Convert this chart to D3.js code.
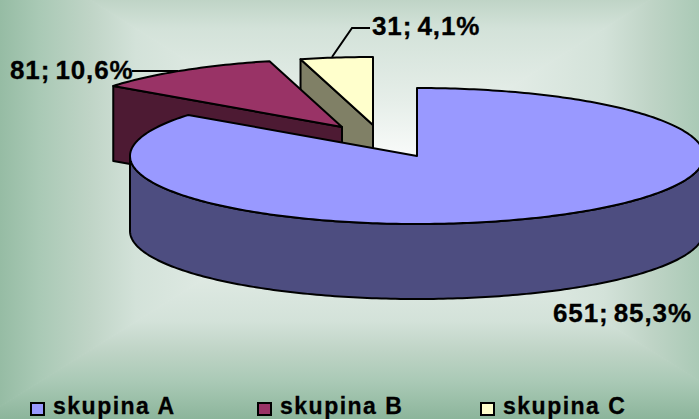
<!DOCTYPE html>
<html>
<head>
<meta charset="utf-8">
<script src="https://cdnjs.cloudflare.com/ajax/libs/d3/7.8.5/d3.min.js"></script>
<style>
  html, body { margin: 0; padding: 0; background: #fff; }
  svg { display: block; font-family: "Liberation Sans", Arial, sans-serif; font-weight: bold; }
</style>
</head>
<body>
<div id="chart"></div>
<script>
// chart data
var categories = ["skupina A", "skupina B", "skupina C"];
var values = [651, 81, 31];
var dataLabels = ["651; 85,3%", "81; 10,6%", "31; 4,1%"];

// colours
var topColors = ["#9999ff", "#993366", "#ffffcc"];
var sideColors = ["#4d4d80", "#4d1a33", "#808066"];

var svgWidth = 699;
var svgHeight = 419;

// pie geometry: ellipse radii, wall height, and the tip of each exploded slice
var rx = 287;
var ry = 68;
var depth = 75;
var tips = [[417, 156], [342, 127], [373, 125]];

var svg = d3.select("#chart")
    .append("svg")
    .attr("width", svgWidth)
    .attr("height", svgHeight);

var defs = svg.append("defs");

/////////////// BACKGROUND: rectangular gradient from the centre /////////////////

// the gradient rectangle runs past the top and right of the picture
var bgCenter = [370, 175];
var bgW = 390;
var bgH = 244;
var bgStops = [
  [0, "#ffffff"], [0.3, "#e6eee9"], [0.6, "#d3e2d9"],
  [0.72, "#bfd4c6"], [0.85, "#a9c9b5"], [1, "#8cb59b"]
];

var bgCorners = [
  [bgCenter[0] - bgW, bgCenter[1] - bgH],
  [bgCenter[0] + bgW, bgCenter[1] - bgH],
  [bgCenter[0] + bgW, bgCenter[1] + bgH],
  [bgCenter[0] - bgW, bgCenter[1] + bgH]
];
var bgEdges = [
  [bgCenter[0], bgCenter[1] - bgH],
  [bgCenter[0] + bgW, bgCenter[1]],
  [bgCenter[0], bgCenter[1] + bgH],
  [bgCenter[0] - bgW, bgCenter[1]]
];

bgEdges.forEach(function(edge, i) {
  var grad = defs.append("linearGradient")
      .attr("id", "bg" + i)
      .attr("gradientUnits", "userSpaceOnUse")
      .attr("x1", bgCenter[0]).attr("y1", bgCenter[1])
      .attr("x2", edge[0]).attr("y2", edge[1]);

  bgStops.forEach(function(s) {
    grad.append("stop").attr("offset", s[0]).attr("stop-color", s[1]);
  });

  svg.append("polygon")
      .attr("points", [bgCorners[i], bgCorners[(i + 1) % 4], bgCenter].join(" "))
      .attr("fill", "url(#bg" + i + ")")
      .attr("stroke", "url(#bg" + i + ")")
      .attr("stroke-width", 1);
});

/////////////// PIE /////////////////////////

var pie = d3.pie().sort(null).value(function(d) { return d; });
var slices = pie(values);

// angle is clockwise from the top, as in d3.pie
function rimPoint(i, angle) {
  return [tips[i][0] + rx * Math.sin(angle), tips[i][1] - ry * Math.cos(angle)];
}

function rimPoints(i, a0, a1) {
  var n = Math.max(2, Math.ceil((a1 - a0) * 60));
  return d3.range(n + 1).map(function(k) {
    return rimPoint(i, a0 + (a1 - a0) * k / n);
  });
}

var line = d3.line();
var down = function(p) { return [p[0], p[1] + depth]; };

function drawShape(points, fill) {
  svg.append("path")
      .attr("d", line(points) + "Z")
      .attr("fill", fill)
      .attr("stroke", "#000")
      .attr("stroke-width", 2)
      .attr("stroke-linejoin", "round");
}

// skupina C: visible cut face, then top
var cStart = rimPoint(2, slices[2].startAngle);
drawShape([cStart, tips[2], down(tips[2]), down(cStart)], sideColors[2]);
drawShape([tips[2]].concat(rimPoints(2, slices[2].startAngle, slices[2].endAngle)), topColors[2]);

// skupina B: visible cut face, then top
var bStart = rimPoint(1, slices[1].startAngle);
drawShape([bStart, tips[1], down(tips[1]), down(bStart)], sideColors[1]);
drawShape([tips[1]].concat(rimPoints(1, slices[1].startAngle, slices[1].endAngle)), topColors[1]);

// skupina A: outer wall from the right extreme round the bottom to the left extreme
var wallRim = rimPoints(0, Math.PI / 2, 3 * Math.PI / 2);
drawShape(wallRim.concat(wallRim.slice().reverse().map(down)), sideColors[0]);
drawShape([tips[0]].concat(rimPoints(0, slices[0].startAngle, slices[0].endAngle)), topColors[0]);

/////////////// LABELS AND LEADER LINES /////////////////////////

var labelX = [553, 10, 372];
var labelY = [322, 79, 35];

svg.selectAll("text.dataLabel")
    .data(dataLabels)
    .enter()
    .append("text")
    .attr("class", "dataLabel")
    .attr("x", function(d, i) { return labelX[i]; })
    .attr("y", function(d, i) { return labelY[i]; })
    .attr("font-size", 26)
    .attr("letter-spacing", 0.9)
    .attr("word-spacing", -3)
    .attr("fill", "#000")
    .attr("stroke", "#000")
    .attr("stroke-width", 0.3)
    .text(function(d) { return d; });

var leaders = [
  [[132, 71], [178, 71]],
  [[332, 57], [352, 28], [370, 28]]
];

leaders.forEach(function(pts) {
  svg.append("path")
      .attr("d", line(pts))
      .attr("fill", "none")
      .attr("stroke", "#000")
      .attr("stroke-width", 2);
});

/////////////// LEGEND /////////////////////////

var legendX = [30, 257, 480];

var legend = svg.selectAll("g.legendItem")
    .data(categories)
    .enter()
    .append("g")
    .attr("class", "legendItem")
    .attr("transform", function(d, i) { return "translate(" + legendX[i] + ",0)"; });

legend.append("rect")
    .attr("x", 1)
    .attr("y", 403)
    .attr("width", 13)
    .attr("height", 12)
    .attr("fill", function(d, i) { return topColors[i]; })
    .attr("stroke", "#000")
    .attr("stroke-width", 2);

legend.append("text")
    .attr("x", 23)
    .attr("y", 414)
    .attr("font-size", 23)
    .attr("letter-spacing", 1.5)
    .attr("fill", "#000")
    .attr("stroke", "#000")
    .attr("stroke-width", 0.3)
    .text(function(d) { return d; });
</script>
</body>
</html>
